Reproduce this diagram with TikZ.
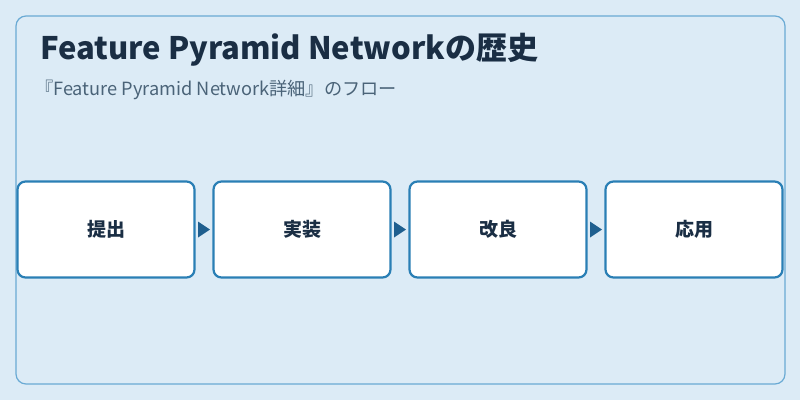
\documentclass[tikz,border=0pt]{standalone}
\usepackage{fontspec}
\setmainfont{Noto Sans CJK JP}
\definecolor{bg}{HTML}{DCEBF6}
\definecolor{panelborder}{HTML}{6AAAD4}
\definecolor{boxborder}{HTML}{2A7FB5}
\definecolor{arrowc}{HTML}{1F5F8F}
\definecolor{titlec}{HTML}{1A2E44}
\definecolor{subc}{HTML}{4A6378}
\begin{document}
\begin{tikzpicture}[x=1pt,y=-1pt,
  stepbox/.style={draw=boxborder,line width=2.2pt,fill=white,rounded corners=8pt,minimum width=177pt,minimum height=96pt,font=\fontsize{19}{21}\selectfont\bfseries,text=titlec},
  tri/.style={fill=arrowc}]
\useasboundingbox (0,0) rectangle (800,400);
\fill[bg] (0,0) rectangle (800,400);
\draw[panelborder,fill=bg,line width=1.2pt,rounded corners=10pt] (16,16) rectangle (785,384);
\node[anchor=base west,font=\fontsize{31}{35}\selectfont\bfseries,text=titlec,inner sep=0pt] (title) at (40,59) {Feature Pyramid Networkの歴史};
\node[anchor=base west,font=\fontsize{18.2}{21}\selectfont,text=subc,inner sep=0pt] (sub) at (35,95) {『Feature Pyramid Network詳細』のフロー};
\node[stepbox] (a) at (106,229.5) {提出};
\node[stepbox] (b) at (302,229.5) {実装};
\node[stepbox] (c) at (498,229.5) {改良};
\node[stepbox] (d) at (694,229.5) {応用};
\foreach \p/\q in {a/b,b/c,c/d}{
  \path (\p.east) -- (\q.west) coordinate[pos=0.5] (m\p);
  \fill[tri] ([xshift=-6pt,yshift=-8pt]m\p) -- ([xshift=6pt]m\p) -- ([xshift=-6pt,yshift=8pt]m\p) -- cycle;
}
\end{tikzpicture}
\end{document}
